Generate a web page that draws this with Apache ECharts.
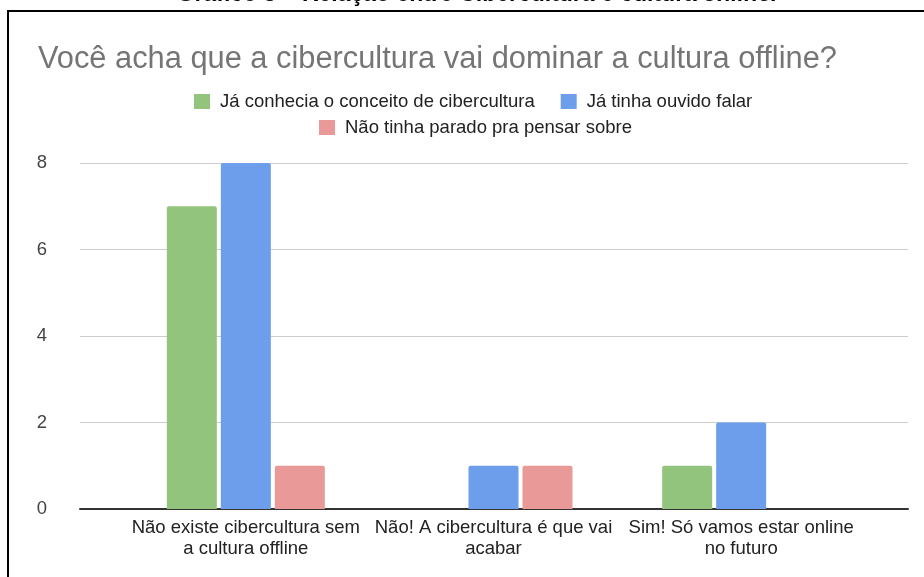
<!DOCTYPE html>
<html>
<head>
<meta charset="utf-8">
<script src="https://cdn.jsdelivr.net/npm/echarts@6/dist/echarts.min.js"></script>
<style>
  html, body { margin: 0; padding: 0; background: #fff; }
  #chart { width: 924px; height: 577px; }
</style>
</head>
<body>
<div id="chart"></div>
<script>
// Survey answers grouped by response, one series per prior-knowledge group
const categories = [
  'Não existe cibercultura sem\na cultura offline',
  'Não! A cibercultura é que vai\nacabar',
  'Sim! Só vamos estar online\nno futuro'
];
const seriesNames = [
  'Já conhecia o conceito de cibercultura',
  'Já tinha ouvido falar',
  'Não tinha parado pra pensar sobre'
];
const jaConhecia = [7, 0, 1];
const jaOuviu = [8, 1, 2];
const naoPensou = [1, 1, 0];
const yTicks = [0, 2, 4, 6, 8];

const FONT = 'Liberation Sans, Arial, sans-serif';
const colors = ['#93c47d', '#6d9eeb', '#ea9999'];

const chart = echarts.init(document.getElementById('chart'), null, { renderer: 'canvas' });

const gridTop = 163, gridBottom = 68;

chart.setOption({
  animation: false,
  backgroundColor: '#ffffff',
  title: {
    text: 'Você acha que a cibercultura vai dominar a cultura offline?',
    left: 33,
    top: 39,
    textStyle: { fontFamily: FONT, fontSize: 30.8, fontWeight: 'normal', color: '#757575' }
  },
  legend: [
    {
      data: [seriesNames[0], seriesNames[1]],
      left: 189, top: 87,
      itemWidth: 16, itemHeight: 15, itemGap: 26,
      icon: 'rect',
      textStyle: { fontFamily: FONT, fontSize: 18.5, color: '#222', padding: [0, 0, 0, 5] }
    },
    {
      data: [seriesNames[2]],
      left: 314, top: 113,
      itemWidth: 16, itemHeight: 15,
      icon: 'rect',
      textStyle: { fontFamily: FONT, fontSize: 18.5, color: '#222', padding: [0, 0, 0, 5] }
    }
  ],
  grid: [
    { left: 80, right: 16, top: gridTop, bottom: gridBottom },
    { left: 122, right: 59, top: gridTop, bottom: gridBottom }
  ],
  xAxis: [
    {
      gridIndex: 0, type: 'value', min: 0, max: 1,
      axisLine: { show: true, lineStyle: { color: '#333', width: 2 } },
      axisTick: { show: false }, axisLabel: { show: false }, splitLine: { show: false }
    },
    {
      gridIndex: 1, type: 'category', data: categories,
      axisLine: { show: false }, axisTick: { show: false },
      axisLabel: {
        interval: 0, margin: 8, lineHeight: 21,
        fontFamily: FONT, fontSize: 18.5, color: '#222'
      }
    }
  ],
  yAxis: [
    {
      gridIndex: 0, type: 'value', min: yTicks[0], max: yTicks[yTicks.length - 1], interval: 2,
      axisLine: { show: false }, axisTick: { show: false },
      axisLabel: { margin: 33, fontFamily: FONT, fontSize: 18.5, color: '#444' },
      splitLine: { lineStyle: { color: '#cccccc', width: 1 } }
    },
    {
      gridIndex: 1, type: 'value', min: yTicks[0], max: yTicks[yTicks.length - 1],
      show: false, splitLine: { show: false }
    }
  ],
  graphic: [
    {
      type: 'text', x: 477, y: 6, z: 100,
      style: {
        text: 'Gráfico 5 – Relação entre Cibercultura e cultura {i|online.}',
        font: 'bold 23px ' + FONT, fill: '#000',
        textAlign: 'center', textVerticalAlign: 'bottom',
        rich: { i: { fontStyle: 'italic', fontWeight: 'bold', fontSize: 23, fontFamily: FONT, fill: '#000' } }
      }
    },
    {
      type: 'rect', z: 100, silent: true,
      shape: { x: 8, y: 11, width: 940, height: 620 },
      style: { fill: 'none', stroke: '#000', lineWidth: 2 }
    }
  ],
  series: [
    { name: seriesNames[0], data: jaConhecia },
    { name: seriesNames[1], data: jaOuviu },
    { name: seriesNames[2], data: naoPensou }
  ].map((s, i) => ({
    type: 'bar', name: s.name, data: s.data,
    xAxisIndex: 1, yAxisIndex: 1,
    barWidth: 50, barGap: '8%',
    itemStyle: { color: colors[i], borderRadius: [2, 2, 0, 0] }
  }))
});
</script>
</body>
</html>
